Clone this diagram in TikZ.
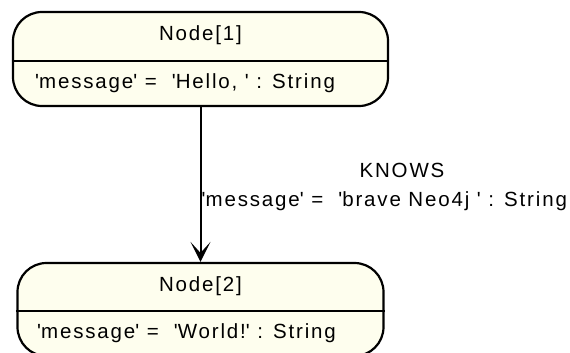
\documentclass[tikz,border=0pt]{standalone}
\usepackage{fontspec}
\newfontfamily\umlfont[LetterSpace=9]{Liberation Sans}
\usetikzlibrary{positioning,arrows.meta}
\definecolor{nodefill}{RGB}{254,254,238}
\tikzstyle{entity}=[draw,line width=2.2pt,rounded corners=29pt,fill=nodefill,inner sep=0pt]
\tikzstyle{lbl}=[inner sep=0pt,font=\umlfont\fontsize{20.5}{24}\selectfont]
\tikzstyle{rel}=[line width=2pt,-{Stealth[length=20pt,width=20pt,inset=11pt]}]
\newcommand{\q}{\textquotesingle}

\begin{document}
\begin{tikzpicture}[x=1pt,y=-1pt]
    \useasboundingbox (0,0) rectangle (570,353);
    % the two nodes
    \node [entity,minimum width=375pt,minimum height=94pt] (n1) at (200.5,59) {};
    \node [entity,minimum width=366pt,minimum height=93pt] (n2) at (200.5,309.5) {};
    \coordinate (d1) at (0,61);
    \coordinate (d2) at (0,311);
    \draw [line width=2pt] (n1.west |- d1) -- (n1.east |- d1);
    \draw [line width=2pt] (n2.west |- d2) -- (n2.east |- d2);
    \node [lbl] (t1) at (200.5,35) {Node[1]};
    \node [lbl,anchor=west] (a1) at (35,83) {\q message\q\ = \ \q Hello, \q\ : String};
    \node [lbl] (t2) at (200.5,286) {Node[2]};
    \node [lbl,anchor=west] (a2) at (37,333) {\q message\q\ = \ \q World!\q\ : String};
    % relationship
    \draw [rel] (n1) -- (n2);
    \node [lbl] (k) at (402,170) {KNOWS};
    \node [lbl,anchor=west] (p) at (201.5,201) {\q message\q\ = \ \q brave Neo4j \q\ : String};
\end{tikzpicture}
\end{document}
